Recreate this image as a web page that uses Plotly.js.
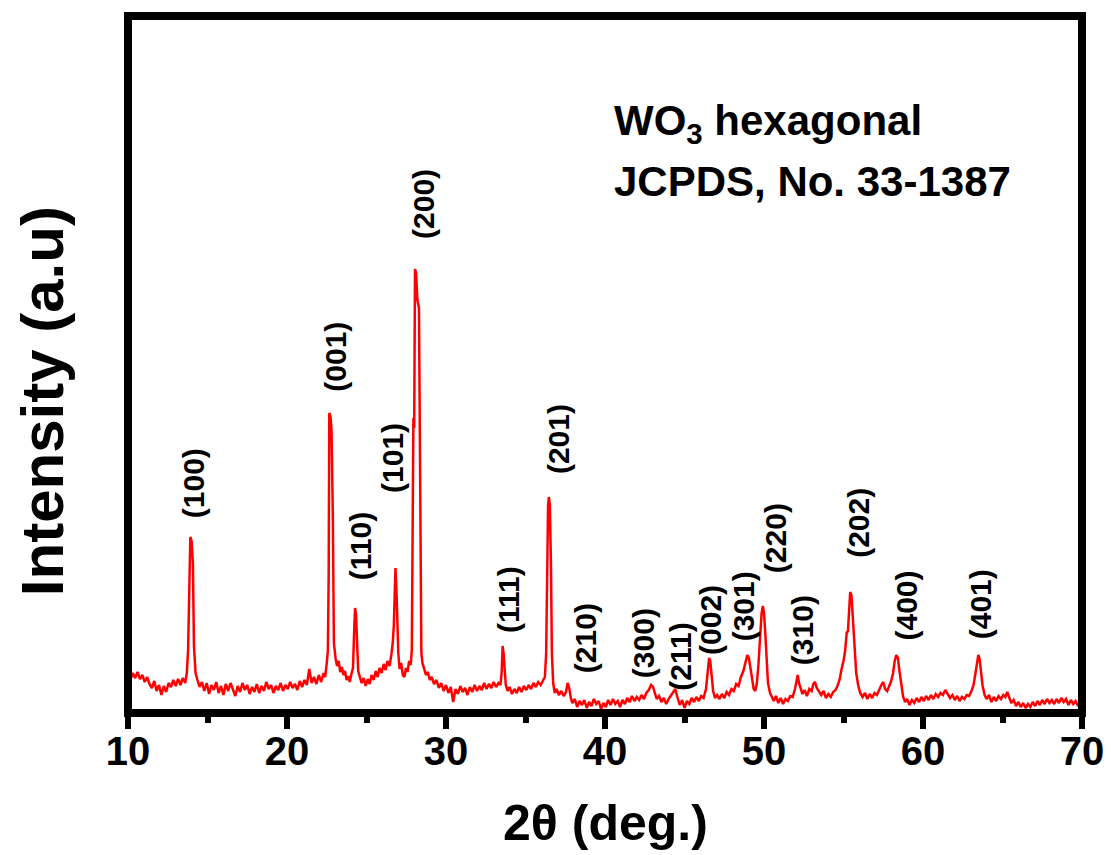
<!DOCTYPE html>
<html>
<head>
<meta charset="utf-8">
<script src="https://cdn.plot.ly/plotly-3.0.1.min.js"></script>
<style>html,body{margin:0;padding:0;background:#fff;}#chart{width:1111px;height:855px;}</style>
</head>
<body>
<div id="chart"></div>
<script>
// 2θ (deg.) sample positions
var twoTheta = [
10.0,10.15,10.3,10.45,10.6,10.75,10.9,11.05,11.2,11.35,11.5,11.65,11.8,11.95,12.1,12.25,12.4,12.55,12.7,12.85,13.0,13.15,13.3,13.45,13.6,
13.7,13.78,13.85,13.92,14.0,14.08,14.15,14.25,14.35,
14.5,14.65,14.8,14.95,15.1,15.25,15.4,15.55,15.7,15.85,16.0,16.15,16.3,16.45,16.6,16.75,16.9,17.05,17.2,17.35,17.5,17.65,17.8,17.95,18.1,18.25,18.4,18.55,18.7,18.85,19.0,19.15,19.3,19.45,19.6,19.75,19.9,20.05,20.2,20.35,20.5,20.65,20.8,20.95,21.1,21.25,21.4,21.55,21.7,21.85,22.0,22.15,22.3,22.4,22.5,
22.57,22.62,22.66,22.74,22.8,22.88,22.95,23.05,23.15,23.25,23.35,23.45,23.55,23.65,23.75,23.85,23.95,24.05,24.15,24.22,24.28,24.34,24.4,24.48,24.58,24.7,24.82,24.95,25.08,25.2,25.32,25.45,25.58,25.7,25.82,25.95,26.08,26.2,26.32,26.45,26.56,26.65,26.72,26.77,26.82,26.88,26.94,27.0,27.08,27.18,27.28,27.38,27.48,27.58,27.68,27.78,27.85,27.9,27.95,28.0,28.05,28.12,28.2,28.3,28.38,28.45,28.52,28.62,28.74,28.86,28.98,29.1,29.25,29.4,29.55,29.7,29.85,30.0,30.15,30.3,30.45,30.6,30.75,30.9,31.05,31.2,31.35,31.5,31.65,31.8,31.95,32.1,32.25,32.4,32.55,32.7,32.85,33.0,33.15,33.3,33.42,33.5,33.56,33.62,33.68,33.76,33.88,34.0,34.15,34.3,34.45,34.6,34.75,34.9,35.05,35.2,35.35,35.5,35.65,35.8,35.95,36.1,36.22,36.3,36.36,36.42,36.47,36.53,36.6,36.66,36.74,36.84,36.95,37.1,37.25,37.4,37.55,37.65,37.75,37.85,37.95,38.1,38.25,38.4,38.55,38.7,38.85,39.0,39.15,39.3,39.45,39.6,39.75,39.9,40.05,40.2,40.35,40.5,40.65,40.8,40.95,41.1,41.25,41.4,41.55,41.7,41.85,42.0,42.15,42.3,42.45,42.6,42.75,42.9,43.02,43.12,43.25,43.4,43.55,43.7,43.85,44.0,44.15,44.3,44.42,44.55,44.7,44.85,45.0,45.15,45.3,45.45,45.6,45.75,45.9,46.05,46.2,46.35,46.45,46.55,46.62,46.7,46.8,46.92,47.05,47.2,47.35,47.5,47.65,47.8,47.95,48.1,48.25,48.4,48.55,48.7,48.85,48.95,49.05,49.15,49.25,49.35,49.45,49.55,49.65,49.75,49.85,49.93,50.0,50.08,50.16,50.25,50.38,50.5,50.62,50.75,50.9,51.05,51.2,51.35,51.5,51.65,51.8,51.95,52.05,52.12,52.2,52.3,52.42,52.55,52.7,52.85,53.0,53.1,53.2,53.32,53.45,53.6,53.75,53.9,54.05,54.2,54.35,54.5,54.62,54.75,54.88,55.0,55.1,55.2,55.28,55.35,55.42,55.5,55.56,55.62,55.7,55.8,55.92,56.05,56.2,56.35,56.5,56.65,56.8,56.95,57.1,57.25,57.38,57.5,57.62,57.75,57.88,58.0,58.12,58.22,58.32,58.42,58.52,58.62,58.75,58.88,59.0,59.15,59.3,59.45,59.6,59.75,59.9,60.05,60.2,60.35,60.5,60.65,60.8,60.95,61.1,61.25,61.4,61.55,61.7,61.85,62.0,62.15,62.3,62.45,62.6,62.75,62.9,63.05,63.18,63.3,63.4,63.48,63.56,63.65,63.75,63.88,64.0,64.15,64.3,64.45,64.6,64.75,64.9,65.05,65.18,65.3,65.42,65.55,65.7,65.85,66.0,66.15,66.3,66.45,66.6,66.75,66.9,67.05,67.2,67.35,67.5,67.65,67.8,67.95,68.1,68.25,68.4,68.55,68.7,68.85,69.0,69.15,69.3,69.45,69.6,69.75,69.9,70.0
];
// Intensity (a.u.)
var intensity = [
38,33,40,35,41,34,38,31,36,29,25,32,22,28,18,27,21,30,26,33,27,34,28,35,30,
40,63,148,176,172,150,66,40,34,
26,31,22,30,19,28,23,31,20,27,18,29,22,30,24,17,27,21,30,23,28,19,26,21,29,20,27,22,31,24,28,20,27,23,30,22,28,24,31,25,29,23,32,26,33,28,44,30,36,29,38,31,40,36,50,
62,136,300,296,283,200,70,55,47,52,41,46,38,42,33,37,31,39,45,80,105,98,62,42,36,30,35,27,34,29,38,33,42,36,45,40,49,43,52,47,58,70,88,140,145,125,88,60,44,50,38,36,45,41,52,48,63,150,295,285,444,440,413,405,163,60,50,44,38,41,33,36,29,33,25,30,22,28,20,26,11,24,19,27,21,25,18,26,21,28,22,27,23,30,24,29,25,31,26,30,28,40,67,60,40,28,22,26,19,24,20,26,21,27,23,28,24,30,26,31,28,32,36,60,150,208,216,208,150,60,30,20,24,18,22,17,21,30,25,15,10,14,6,12,8,13,5,11,7,14,9,12,4,10,6,13,8,14,9,12,6,13,9,15,11,17,12,16,13,18,14,20,23,28,26,20,14,17,11,15,9,14,18,21,24,16,8,13,5,12,9,15,11,16,12,17,15,24,38,55,52,36,22,15,18,14,19,15,21,18,24,22,29,27,36,42,53,58,55,45,34,24,22,30,48,80,100,107,100,80,50,30,20,16,12,17,10,15,9,14,12,17,16,24,35,38,30,24,19,23,17,24,22,29,31,25,21,18,22,15,19,16,21,23,27,33,44,52,62,80,82,105,121,118,100,82,60,40,28,20,16,20,14,19,15,20,18,24,28,31,24,22,27,32,40,52,58,55,42,28,16,11,14,8,13,10,15,11,16,12,17,13,18,14,19,16,20,18,23,19,15,18,13,17,12,16,14,18,17,22,28,40,52,58,54,40,27,18,14,18,11,16,12,17,14,18,16,21,15,10,13,7,11,6,10,5,9,6,11,7,12,8,13,9,14,10,13,9,14,10,15,11,14,8,13,9,12,7,11,9
];
// Reflection labels (hkl) and where they sit
var hkl    = ["(100)","(001)","(110)","(101)","(200)","(111)","(201)","(210)","(300)","(211)","(002)","(301)","(220)","(310)","(202)","(400)","(401)"];
var labelX = [14.1, 23.0, 24.6, 26.6, 28.55, 33.9, 37.05, 38.75, 42.4, 44.7, 46.6, 48.7, 50.7, 52.4, 55.9, 58.9, 63.6];
var labelY = [230, 356, 167, 255, 509, 113, 274, 75, 70, 56, 93, 107, 175, 83, 190, 107, 109];
var xTicks = [10, 20, 30, 40, 50, 60, 70];

var FONT = "'Liberation Sans', Arial, Helvetica, sans-serif";

var trace = {
  x: twoTheta, y: intensity, type: "scatter", mode: "lines",
  line: {color: "#ff0000", width: 2.5}, hoverinfo: "skip", showlegend: false
};

var ann = [];
for (var i = 0; i < hkl.length; i++) {
  ann.push({x: labelX[i], y: labelY[i], xref: "x", yref: "y", text: hkl[i], showarrow: false,
    textangle: -90, xanchor: "center", yanchor: "middle",
    font: {family: FONT, size: 30, color: "#000", weight: "bold"}});
}
ann.push({x: 40.44, y: 590, xref: "x", yref: "y", xanchor: "left", yanchor: "middle", showarrow: false,
  text: "WO<sub>3</sub> hexagonal", font: {family: FONT, size: 42, color: "#000", weight: "bold"}});
ann.push({x: 40.44, y: 532, xref: "x", yref: "y", xanchor: "left", yanchor: "middle", showarrow: false,
  text: "JCPDS, No. 33-1387", font: {family: FONT, size: 42, color: "#000", weight: "bold"}});
ann.push({x: -0.09, y: 0.4476, xref: "paper", yref: "paper", xanchor: "center", yanchor: "middle", showarrow: false,
  textangle: -90, text: "Intensity (a.u)", font: {family: FONT, size: 60, color: "#000", weight: "bold"}});
ann.push({x: 0.5, y: -0.158, xref: "paper", yref: "paper", xanchor: "center", yanchor: "middle", showarrow: false,
  text: "2θ (deg.)", font: {family: FONT, size: 50, color: "#000", weight: "bold"}});

var layout = {
  width: 1111, height: 855,
  margin: {l: 128, r: 29, t: 16, b: 142},
  paper_bgcolor: "#fff", plot_bgcolor: "#fff",
  xaxis: {
    range: [10, 70], tickvals: xTicks, ticktext: xTicks.map(String),
    ticks: "outside", ticklen: 15, tickwidth: 6, tickcolor: "#000",
    ticklabelstandoff: -12,
    minor: {dtick: 5, tick0: 10, ticks: "outside", ticklen: 9, tickwidth: 6, tickcolor: "#000"},
    showgrid: false, zeroline: false, showline: false,
    tickfont: {family: FONT, size: 40, color: "#000", weight: "bold"}
  },
  yaxis: {
    range: [0, 697], showticklabels: false, ticks: "", showgrid: false, zeroline: false, showline: false
  },
  shapes: [{type: "rect", xref: "paper", yref: "paper", x0: 0, x1: 1, y0: 0, y1: 1,
    line: {color: "#000", width: 8}, layer: "above"}],
  annotations: ann
};

Plotly.newPlot("chart", [trace], layout, {displayModeBar: false, staticPlot: true});
</script>
</body>
</html>
